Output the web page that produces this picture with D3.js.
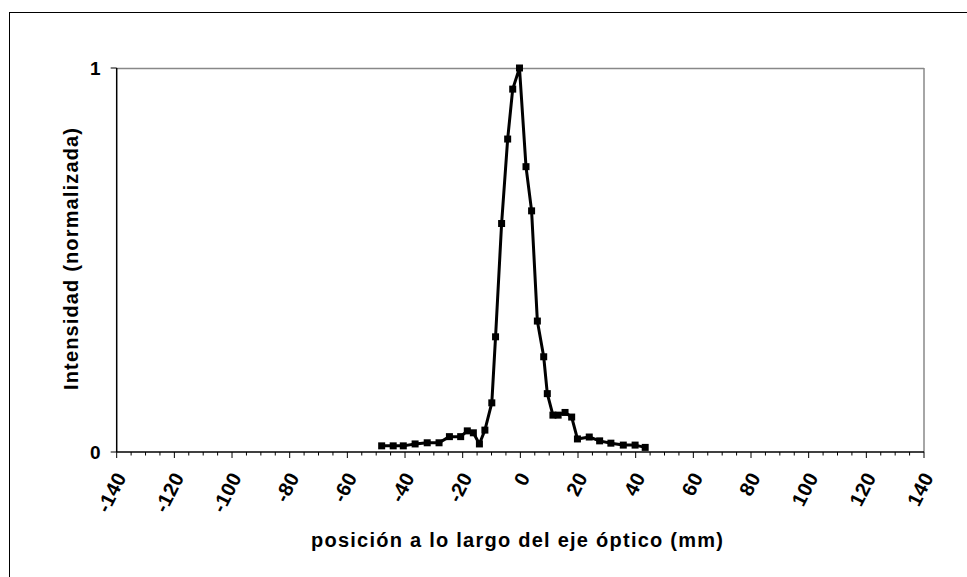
<!DOCTYPE html>
<html><head><meta charset="utf-8">
<script src="https://cdn.jsdelivr.net/npm/d3@7"></script>
<style>body{margin:0;background:#fff}svg{display:block}</style>
</head><body>
<svg id="c" width="967" height="577"></svg>
<script>
const positions = [-48.1,-44.1,-40.6,-36.5,-32.3,-28.2,-24.6,-20.7,-18.4,-16.3,-14.2,-12.3,-9.9,-8.6,-6.5,-4.4,-2.65,-0.3,1.96,3.9,5.9,8.1,9.35,11.3,13.1,15.5,17.8,19.8,23.9,27.5,31.4,35.7,39.8,43.3];
const intensities = [0.016,0.016,0.016,0.021,0.024,0.024,0.040,0.040,0.055,0.050,0.021,0.057,0.128,0.30,0.595,0.815,0.945,1.0,0.743,0.628,0.341,0.248,0.152,0.096,0.096,0.103,0.091,0.034,0.039,0.029,0.023,0.018,0.018,0.012];
const xTicks = [-140,-120,-100,-80,-60,-40,-20,0,20,40,60,80,100,120,140];
const yTicks = [0,1];
const xTitle = "posición a lo largo del eje óptico (mm)";
const yTitle = "Intensidad (normalizada)";

const svg = d3.select("#c");
const L = 116.7, R = 924, T = 68, B = 452;
const x = d3.scaleLinear().domain([-140,140]).range([L,R]);
const y = d3.scaleLinear().domain([0,1]).range([B,T]);
const FONT = "'Liberation Sans', Arial, sans-serif";

// outer frame (left and top only visible)
svg.append("rect").attr("x",9.5).attr("y",12.5).attr("width",1100).attr("height",1100)
  .attr("fill","none").attr("stroke","#000").attr("stroke-width",1);

// plot box top/right gray
svg.append("line").attr("x1",L).attr("x2",R).attr("y1",T+0.5).attr("y2",T+0.5).attr("stroke","#888").attr("stroke-width",1.5);
svg.append("line").attr("x1",R).attr("x2",R).attr("y1",T).attr("y2",B).attr("stroke","#888").attr("stroke-width",1.5);

// x ticks (minor every 5, major every 20)
const minor = d3.range(-140,141,5);
const gx = svg.append("g").attr("transform",`translate(0,${B})`);
gx.selectAll("line.mi").data(minor).join("line")
  .attr("x1",d=>x(d)).attr("x2",d=>x(d)).attr("y1",0).attr("y2",d=>d%20===0?6:3.5)
  .attr("stroke","#000").attr("stroke-width",1);
gx.append("line").attr("x1",L).attr("x2",R).attr("y1",0).attr("y2",0).attr("stroke","#000").attr("stroke-width",1.5);

gx.selectAll("text").data(xTicks).join("text")
  .attr("transform",d=>`translate(${x(d)+4},${22}) rotate(-63)`)
  .attr("text-anchor","end").attr("dy","0.35em")
  .style("font-family",FONT).style("font-weight","bold")
  .style("font-size","20px").style("letter-spacing","0.3px").text(d=>d);

// y axis
const gy = svg.append("g").attr("transform",`translate(${L},0)`);
gy.append("line").attr("x1",0).attr("x2",0).attr("y1",T).attr("y2",B).attr("stroke","#000").attr("stroke-width",1.5);
gy.selectAll("line.t").data(yTicks).join("line")
  .attr("x1",-6).attr("x2",0).attr("y1",d=>y(d)).attr("y2",d=>y(d)).attr("stroke","#000");
gy.selectAll("text").data(yTicks).join("text")
  .attr("x",-16).attr("y",d=>y(d)).attr("dy","0.36em").attr("text-anchor","end")
  .style("font-family",FONT).style("font-weight","bold")
  .style("font-size","19px").text(d=>d);

// titles
svg.append("text").attr("x",517).attr("y",547).attr("text-anchor","middle")
  .attr("textLength",412).attr("lengthAdjust","spacing")
  .style("font-family",FONT).style("font-weight","bold")
  .style("font-size","20px").text(xTitle);
svg.append("text").attr("transform",`translate(78,259) rotate(-90)`).attr("text-anchor","middle")
  .attr("textLength",262).attr("lengthAdjust","spacing")
  .style("font-family",FONT).style("font-weight","bold")
  .style("font-size","20px").text(yTitle);

// series
const pts = positions.map((p,i)=>[p,intensities[i]]);
svg.append("path").datum(pts)
  .attr("d",d3.line().x(d=>x(d[0])).y(d=>y(d[1])))
  .attr("fill","none").attr("stroke","#000").attr("stroke-width",3).attr("stroke-linejoin","round");
svg.selectAll("rect.m").data(pts).join("rect").attr("class","m")
  .attr("x",d=>x(d[0])-3.5).attr("y",d=>y(d[1])-3.5).attr("width",7).attr("height",7).attr("fill","#000");
</script>
</body></html>
